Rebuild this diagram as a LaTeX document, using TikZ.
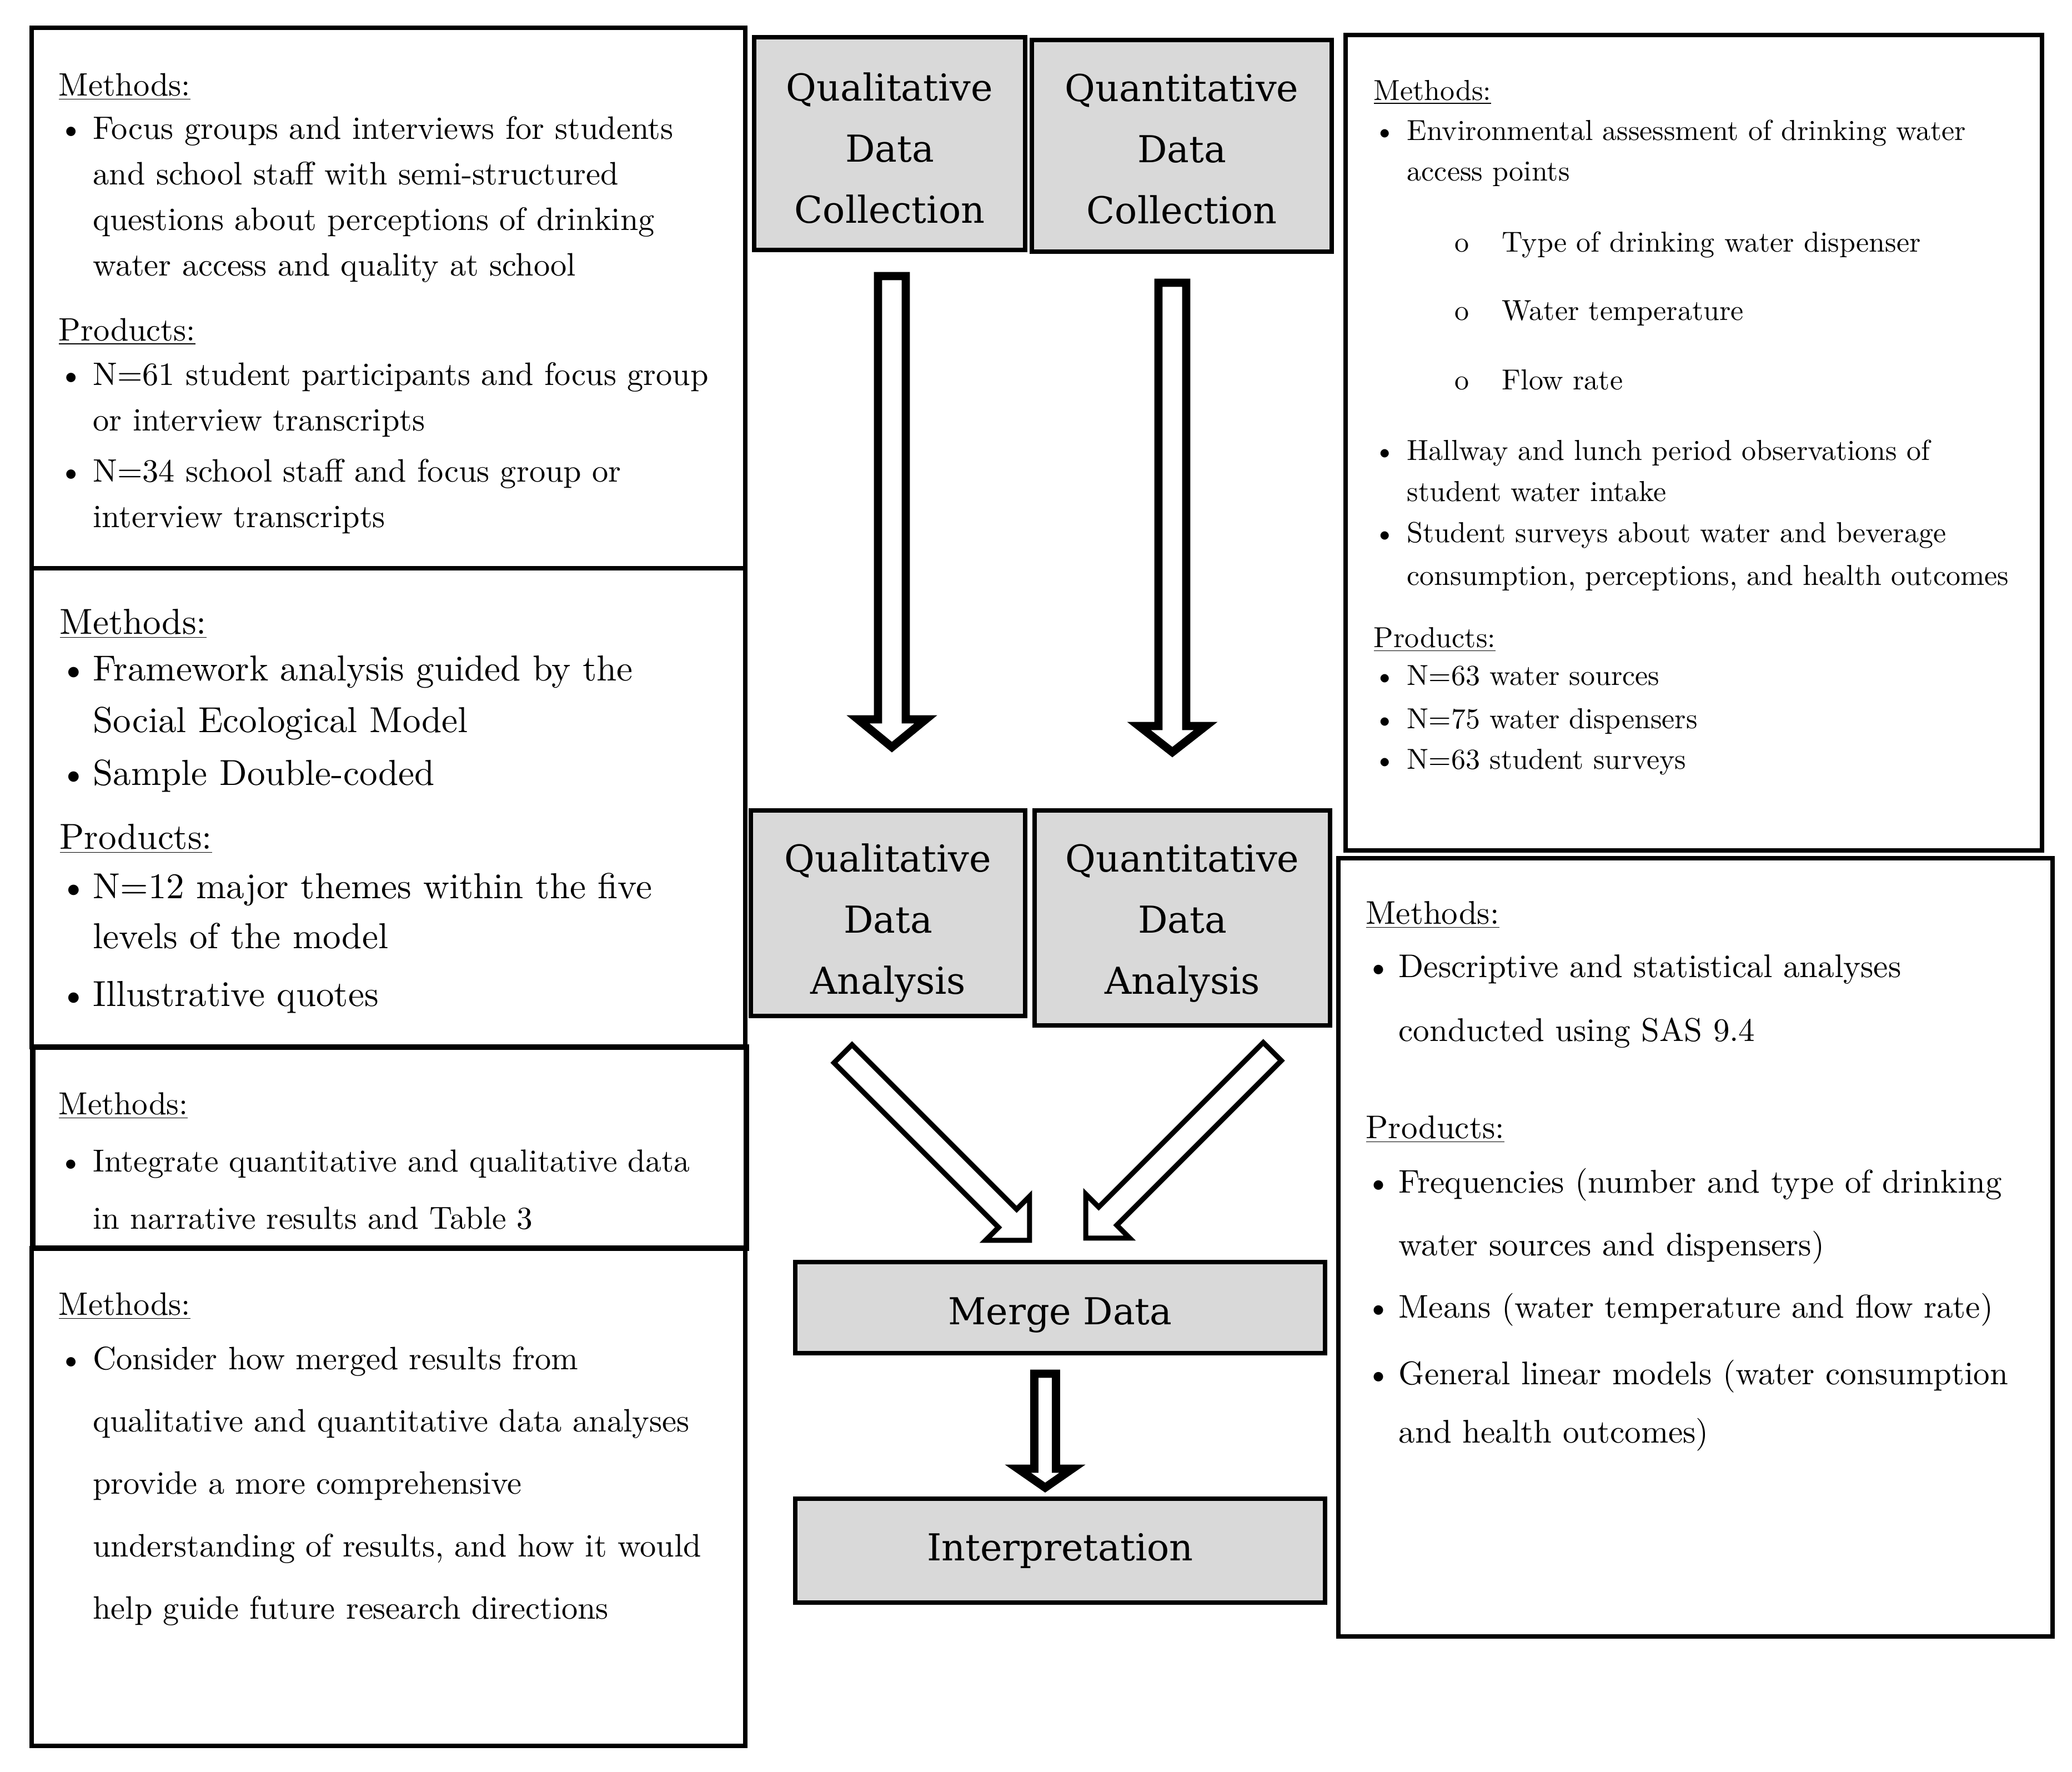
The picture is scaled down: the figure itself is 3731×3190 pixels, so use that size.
\documentclass[tikz,border=0pt]{standalone}
\usepackage{fontspec}
\setmainfont{lmroman10-regular.otf}
\newfontfamily\ctrfont{DejaVu Serif}
\usetikzlibrary{fit,calc}
\newcommand\bul[1]{\makebox[#1][l]{\textbullet}}
\newcommand\ind[1]{\makebox[#1]{}}
\newcommand\subb{\makebox[65.7pt][l]{\hspace*{41.5pt}o}}
\newcommand\topstrut{\rule{0pt}{25pt}}
\begin{document}
\begin{tikzpicture}[x=0.1mm, y=-0.1mm,
  box/.style={draw, line width=2.1pt, inner sep=0pt, outer sep=0pt},
  gbox/.style={box, fill=gray!30},
  txt/.style={anchor=north west, inner sep=0pt, align=left},
  ctr/.style={inner sep=0pt, align=center, font=\ctrfont\fontsize{19}{31.3}\selectfont},
  blockarrow/.style={draw, line width=4.2pt, fill=white, line join=miter},
  diagarrow/.style={blockarrow, line width=2.6pt}]
\useasboundingbox (0,0) rectangle (3731,3190);

% outer boxes
\node[box, fit={(57,50) (1342,1023)}] (L1) {};
\node[box, fit={(57,1023) (1342,1885)}] (L2) {};
\node[box, line width=2.8pt, fit={(59,1885) (1344,2247)}] (L3) {};
\node[box, fit={(57,2247) (1342,3143)}] (L4) {};
\node[box, line width=2.4pt, fit={(2423,63) (3677,1531)}] (R1) {};
\node[box, line width=2.4pt, fit={(2410,1545) (3696,2946)}] (R2) {};

% centre boxes
\node[gbox, fit={(1358,67) (1846,450)}] (qdc) {};
\node[gbox, fit={(1858,72) (2398,453)}] (ndc) {};
\node[gbox, fit={(1352,1459) (1846,1829)}] (qda) {};
\node[gbox, fit={(1863,1459) (2395,1846)}] (nda) {};
\node[gbox, fit={(1432,2272) (2386,2436)}] (merge) {};
\node[gbox, fit={(1432,2698) (2386,2885)}] (interp) {};

\node[ctr] (qdct) at (1602,267) {Qualitative\\Data\\Collection};
\node[ctr] (ndct) at (2128,268) {Quantitative\\Data\\Collection};
\node[ctr] (qdat) at (1599,1662) {Qualitative\\Data\\Analysis};
\node[ctr] (ndat) at (2129,1662) {Quantitative\\Data\\Analysis};
\node[ctr] (merget) at (1909,2368) {Merge Data};
\node[ctr] (interpt) at (1909,2792) {Interpretation};

% block arrows
\coordinate (a1) at ($(qdc.south)+(4,47)$);
\coordinate (a2) at ($(ndc.south)+(-17,56)$);
\coordinate (a3) at ($(merge.south)+(-27,37)$);
\coordinate (a4) at ($(qda.south)+(-81,68)$);
\coordinate (a5) at ($(nda.south)+(162,47)$);
\draw[blockarrow, shift={(a1)}] (-25,0) -- (-25,798) -- (-61,798) -- (0,848) -- (61,798) -- (25,798) -- (25,0) -- cycle;
\draw[blockarrow, shift={(a2)}] (-25,0) -- (-25,798) -- (-60,798) -- (0,845) -- (60,798) -- (25,798) -- (25,0) -- cycle;
\draw[blockarrow, shift={(a3)}] (-19.5,0) -- (-19.5,171) -- (-49,171) -- (0,205) -- (49,171) -- (19.5,171) -- (19.5,0) -- cycle;
\draw[diagarrow, shift={(a4)}, rotate=-45] (0,-23) -- (419,-23) -- (419,-56) -- (475,0) -- (419,56) -- (419,23) -- (0,23) -- cycle;
\draw[diagarrow, shift={(a5)}, rotate=-135] (0,-23) -- (419,-23) -- (419,-56) -- (475,0) -- (419,56) -- (419,23) -- (0,23) -- cycle;

% left texts
\node[txt, font=\fontsize{16.6}{23.3}\selectfont] (L1t) at (105,84.1) {\topstrut\underline{Methods:}\\[-1.1pt]
\bul{17.6pt}Focus groups and interviews for students\\
\ind{17.6pt}and school staff with semi-structured\\
\ind{17.6pt}questions about perceptions of drinking\\
\ind{17.6pt}water access and quality at school\\[10pt]
\underline{Products:}\\[-0.6pt]
\bul{17.6pt}N=61 student participants and focus group\\
\ind{17.6pt}or interview transcripts\\[3.1pt]
\bul{17.6pt}N=34 school staff and focus group or\\
\ind{17.6pt}interview transcripts};

\node[txt, font=\fontsize{18.5}{25.9}\selectfont] (L2t) at (107,1053.1) {\topstrut\underline{Methods:}\\[-2pt]
\bul{17.1pt}Framework analysis guided by the\\[0.6pt]
\ind{17.1pt}Social Ecological Model\\[0.9pt]
\bul{17.1pt}Sample Double-coded\\[7.1pt]
\underline{Products:}\\[-0.6pt]
\bul{17.1pt}N=12 major themes within the five\\[-0.3pt]
\ind{17.1pt}levels of the model\\[3.7pt]
\bul{17.1pt}Illustrative quotes};

\node[txt, font=\fontsize{16.3}{29.3}\selectfont] (L3t) at (105,1918.1) {\topstrut\underline{Methods:}\\
\bul{17.6pt}Integrate quantitative and qualitative data\\
\ind{17.6pt}in narrative results and Table 3};

\node[txt, font=\fontsize{16.6}{31.9}\selectfont] (L4t) at (105,2279.1) {\topstrut\underline{Methods:}\\[-4pt]
\bul{17.6pt}Consider how merged results from\\
\ind{17.6pt}qualitative and quantitative data analyses\\
\ind{17.6pt}provide a more comprehensive\\
\ind{17.6pt}understanding of results, and how it would\\
\ind{17.6pt}help guide future research directions};

% right texts
\node[txt, font=\fontsize{14.8}{21.06}\selectfont] (R1t) at (2473,92.1) {\topstrut\underline{Methods:}\\[-0.6pt]
\bul{17.1pt}Environmental assessment of drinking water\\[-0.3pt]
\ind{17.1pt}access points\\[15.4pt]
\subb Type of drinking water dispenser\\[13.9pt]
\subb Water temperature\\[14.5pt]
\subb Flow rate\\[15.1pt]
\bul{17.1pt}Hallway and lunch period observations of\\
\ind{17.1pt}student water intake\\
\bul{17.1pt}Student surveys about water and beverage\\[0.9pt]
\ind{17.1pt}consumption, perceptions, and health outcomes\\[10.8pt]
\underline{Products:}\\[-1.7pt]
\bul{17.1pt}N=63 water sources\\[1.1pt]
\bul{17.1pt}N=75 water dispensers\\[-0.3pt]
\bul{17.1pt}N=63 student surveys};

\node[txt, font=\fontsize{16.8}{31.9}\selectfont] (R2t) at (2459,1575.1) {\topstrut\underline{Methods:}\\[-4.6pt]
\bul{16.8pt}Descriptive and statistical analyses\\[0.9pt]
\ind{16.8pt}conducted using SAS 9.4\\[17.9pt]
\underline{Products:}\\[-4pt]
\bul{16.8pt}Frequencies (number and type of drinking\\
\ind{16.8pt}water sources and dispensers)\\
\bul{16.8pt}Means (water temperature and flow rate)\\[2.3pt]
\bul{16.8pt}General linear models (water consumption\\[-2pt]
\ind{16.8pt}and health outcomes)};
\end{tikzpicture}
\end{document}
